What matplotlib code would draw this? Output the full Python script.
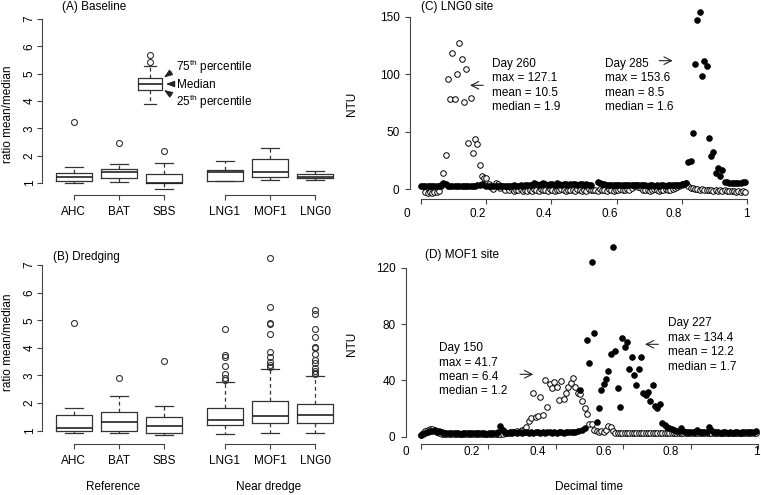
import numpy as np
import matplotlib
matplotlib.use('Agg')
import matplotlib.pyplot as plt
from matplotlib.transforms import blended_transform_factory

plt.rcParams['font.family'] = ['Liberation Sans', 'DejaVu Sans']
plt.rcParams['font.size'] = 8.5

W, H = 761, 495
LINE = '#333333'

# --- Box plot statistics: ratio mean/median per site ---
sites = ['AHC', 'BAT', 'SBS', 'LNG1', 'MOF1', 'LNG0']

base_whislo = [1.01, 1.03, 0.79, 1.07, 1.10, 1.12]
base_q1 = [1.06, 1.17, 1.00, 1.07, 1.22, 1.17]
base_med = [1.21, 1.41, 1.01, 1.39, 1.41, 1.22]
base_q3 = [1.35, 1.50, 1.32, 1.47, 1.89, 1.32]
base_whishi = [1.60, 1.71, 1.72, 1.79, 2.27, 1.43]
base_fliers = [[3.22], [2.45], [2.17], [], [], []]

dredge_whislo = [0.90, 0.90, 0.84, 0.88, 0.92, 0.93]
dredge_q1 = [0.99, 0.99, 0.92, 1.19, 1.27, 1.27]
dredge_med = [1.11, 1.33, 1.17, 1.39, 1.53, 1.56]
dredge_q3 = [1.56, 1.67, 1.51, 1.83, 2.08, 1.98]
dredge_whishi = [1.83, 2.26, 1.89, 2.77, 3.23, 2.98]
dredge_fliers = [[4.91], [2.92], [3.52],
                 [4.67, 3.74, 3.68, 3.34, 3.04, 2.90, 2.84],
                 [7.24, 5.47, 4.91, 4.86, 4.49, 3.84, 3.66, 3.50, 3.38, 3.32],
                 [5.37, 5.22, 4.68, 4.38, 4.04, 3.98, 3.78, 3.56, 3.44, 3.26,
                  3.17, 3.10, 3.05]]

# key box drawn inside panel A
key_stats = dict(whislo=3.89, q1=4.41, med=4.64, q3=4.83, whishi=5.29,
                 fliers=[5.44, 5.68])

# --- Turbidity (NTU), 10-minute readings over one day ---
N_READINGS = 144

lng0_day260 = [
    None, None, -3.0, -3.3, -2.8, -3.2, -3.0, -2.6, -1.5, 2.5, 13.6, 29.6,
    95.4, 78.1, 118.1, 78.6, 100.0, 127.1, 113.1, 75.7, 104.4, 39.7, 79.2, 31.0,
    43.2, 39.1, 20.9, 11.0, 10.0, 9.5, 4.0, 1.5, 0.0, 5.5, 4.0, 1.0,
    3.0, -0.5, 1.5, -1.0, 0.5, -1.5, -0.5, -1.2, 0.0, -1.5, -0.8, -1.8,
    -0.6, -1.4, 0.2, -1.0, -1.7, -0.4, -1.2, -0.8, -1.6, -0.2, -1.1, -1.5,
    -0.7, -1.3, 0.0, -1.0, -1.6, -0.5, -1.2, -0.9, -1.7, -0.3, -1.1, -1.4,
    -0.6, -1.5, -0.2, -1.0, -1.3, -0.7, -1.6, -0.4, -1.2, -0.8, -1.5, -0.3,
    -1.0, -1.4, -0.6, -1.1, -0.2, -1.3, -0.8, 0.3, -0.9, 1.0, 2.5, 3.5,
    2.0, 0.5, -0.8, -1.2, -0.5, -1.4, -0.9, -0.3, -1.1, -1.5, -0.6, -1.0,
    -0.4, -1.2, -0.7, 0.2, 0.8, 1.5, 2.5, 3.5, 4.5, 5.0, 2.5, 1.0,
    0.5, -0.3, 0.2, -0.6, -0.2, -1.0, -0.5, -1.3, -0.8, -1.5, -1.0, -1.7,
    -1.2, -1.6, -1.0, -1.8, -1.4, -2.0, -1.5, -2.2, -1.8, -2.4, -2.0, -2.5,
]

lng0_day285 = [
    2.4, 2.5, 2.3, 2.6, 2.5, 2.4, 2.6, 2.5, 2.7, 3.5, 5.6, 4.2,
    3.0, 2.6, 2.4, 2.5, 2.3, 2.5, 2.4, 2.6, 2.5, 2.4, 2.5, 2.6,
    2.7, 3.2, 3.6, 4.1, 3.4, 2.8, 2.5, 2.4, 2.6, 2.5, 2.7, 2.8,
    2.6, 2.9, 3.0, 2.7, 2.9, 3.1, 2.8, 3.0, 3.2, 2.9, 3.1, 3.3,
    3.4, 3.8, 5.0, 4.0, 3.7, 4.2, 5.0, 4.1, 3.8, 4.0, 4.3, 3.9,
    4.8, 4.1, 3.9, 4.2, 4.0, 3.8, 4.1, 4.4, 4.0, 3.9, 4.2, 4.0,
    3.8, 4.1, 3.9, 3.7, None, None, 6.5, 5.4, 4.6, 4.0, 3.8, 3.7,
    3.6, 3.9, 3.5, 3.7, 3.4, 3.6, 3.3, 3.5, 3.8, 3.4, 3.2, 3.5,
    3.3, 3.1, 3.4, 3.2, 3.0, 3.3, 3.1, 2.9, 3.2, 3.0, 3.1, 3.3,
    3.0, 3.2, 3.4, 3.1, 3.5, 3.3, 3.6, 4.0, 4.6, 5.5, 23.8, 24.2,
    49.0, 108.8, 147.1, 153.6, 98.6, 111.4, 107.3, 44.1, 29.0, 31.9, 14.2, 18.0,
    11.6, 16.5, 6.4, 5.8, 5.5, 5.2, 5.0, 5.2, 4.9, 5.4, 6.0, 6.1,
]

mof1_day150 = [
    1.5, 2.5, 3.8, 4.8, 5.2, 5.6, 4.2, 3.0, 2.4, 2.2, 2.0, 2.1,
    2.0, 2.2, 2.1, 2.0, 2.2, 2.1, 2.0, 2.2, 2.1, 2.0, 2.2, 2.1,
    2.0, 2.2, 2.1, 2.0, 2.2, 2.1, 2.0, 2.2, 2.1, 2.0, 2.2, 2.1,
    2.3, 2.5, 2.8, 3.2, 3.6, 4.3, 3.5, 4.7, 5.0, 6.7, 11.4, 13.5,
    31.3, 14.0, 14.7, 28.4, 15.4, 40.5, 21.3, 37.4, 34.4, 39.1, 35.5, 26.1,
    39.8, 26.6, 31.3, 35.5, 38.0, 41.7, 35.5, 30.8, 30.3, 25.0, 20.2, 15.9,
    9.0, 9.0, 5.0, 4.0, 3.5, 4.0, 3.0, 4.5, 7.8, 7.2, 4.0, 2.6,
    2.5, 2.6, 2.4, 2.5, 2.6, 2.5, 2.4, 2.6, 2.5, 2.4, 2.6, 2.5,
    2.4, 2.6, 2.5, 2.4, 2.6, 2.5, 2.4, 2.6, 2.5, 2.4, 2.6, 2.5,
    2.4, 2.6, 2.5, 2.4, 2.6, 2.5, 2.4, 2.6, 2.5, 2.4, 2.6, 2.5,
    2.4, 2.6, 2.5, 2.4, 2.6, 2.5, 2.4, 2.6, 2.5, 2.4, 2.6, 2.5,
    2.4, 2.6, 2.5, 2.4, 2.6, 2.5, 2.4, 2.6, 2.5, 2.4, 2.6, 2.5,
]

mof1_day227 = [
    1.5, 2.0, 2.6, 3.4, 4.4, 4.0, 4.6, 3.6, 4.3, 3.0, 2.6, 2.4,
    2.5, 2.3, 2.6, 2.4, 2.5, 2.2, 2.6, 2.4, 2.5, 2.3, 2.6, 2.4,
    2.5, 2.3, 2.6, 2.4, 2.2, 2.5, 2.4, 2.6, 2.3, 3.0, 7.5, 5.0,
    3.2, 2.9, 3.1, 2.8, 3.0, 2.9, 3.1, 2.8, 3.0, 3.2, 2.9, 3.1,
    2.8, 3.0, 3.3, 2.9, 3.1, 2.8, 3.0, 3.2, 2.9, 3.1, 2.8, 3.0,
    3.2, 2.9, 3.1, 3.0, 3.3, 3.4, 3.6, 4.0, 33.2, 4.5, 6.0, 68.7,
    52.1, 124.0, 73.4, 10.7, 20.6, 33.2, 37.4, 40.7, 46.9, 58.5, 134.4, 61.1,
    34.4, 21.3, 70.3, 63.5, 67.3, 47.9, 56.8, 43.8, 36.7, 47.9, 56.8, 30.8,
    29.6, 32.0, 25.1, 36.7, 22.0, 20.2, 23.2, 9.9, 8.3, 7.2, 6.3, 5.6,
    5.0, 4.4, 3.8, 6.0, 4.4, 3.6, 3.3, 3.1, 3.4, 3.2, 5.0, 3.6,
    3.2, 3.0, 3.4, 7.0, 5.0, 3.3, 3.0, 3.2, 2.9, 3.1, 3.0, 2.8,
    3.1, 2.9, 3.2, 3.0, 2.8, 3.1, 3.3, 3.0, 3.2, 3.4, 3.6, 4.0,
]

lng0_notes = {'Day 260': ['max = 127.1', 'mean = 10.5', 'median = 1.9'],
              'Day 285': ['max = 153.6', 'mean = 8.5', 'median = 1.6']}
mof1_notes = {'Day 150': ['max = 41.7', 'mean = 6.4', 'median = 1.2'],
              'Day 227': ['max = 134.4', 'mean = 12.2', 'median = 1.7']}

time_ticks = [0, 0.2, 0.4, 0.6, 0.8, 1]
time_labels = ['0', '0.2', '0.4', '0.6', '0.8', '1']

positions = [1, 2, 3, 4.35, 5.35, 6.35]

fig = plt.figure(figsize=(W / 100, H / 100), dpi=100)


def px_axes(l, t, r, b):
    return fig.add_axes([l / W, 1 - b / H, (r - l) / W, (b - t) / H])


def ftext(x, y, s, **kw):
    kw.setdefault('ha', 'left')
    kw.setdefault('va', 'center')
    return fig.text(x / W, 1 - y / H, s, **kw)


def farrow(x0, y0, x1, y1, style):
    fig.add_artist(matplotlib.patches.FancyArrowPatch(
        (x0 / W, 1 - y0 / H), (x1 / W, 1 - y1 / H), transform=fig.transFigure,
        arrowstyle=style, color='#222222', lw=0.8, shrinkA=0, shrinkB=0,
        mutation_scale=6))


def make_stats(lo, q1, med, q3, hi, fl):
    return [dict(whislo=a, q1=b, med=c, q3=d, whishi=e, fliers=f)
            for a, b, c, d, e, f in zip(lo, q1, med, q3, hi, fl)]


def draw_boxes(ax, stats, pos, width):
    ax.bxp(stats, positions=pos, widths=width, capwidths=width / 2,
           manage_ticks=False,
           boxprops=dict(color=LINE, lw=0.9),
           whiskerprops=dict(color=LINE, lw=0.9, ls=(0, (3, 2.5))),
           capprops=dict(color=LINE, lw=0.9),
           medianprops=dict(color='#222222', lw=1.2),
           flierprops=dict(marker='o', mfc='none', mec=LINE, ms=4.3, mew=0.8))


def box_panel(ax, ylo, yhi, stats):
    ax.set_xlim(0.3, 6.9)
    ax.set_ylim(ylo, yhi)
    for s in ['top', 'right', 'bottom']:
        ax.spines[s].set_visible(False)
    ax.spines['left'].set_bounds(1, 7)
    ax.spines['left'].set_color('#444444')
    ax.spines['left'].set_linewidth(0.8)
    ax.set_yticks(range(1, 8))
    ax.tick_params(axis='y', direction='out', length=3.6, width=0.8,
                   color='#444444', pad=1)
    for lab in ax.get_yticklabels():
        lab.set_rotation(90)
        lab.set_va('center')
    ax.set_xticks(positions, sites)
    ax.tick_params(axis='x', direction='out', length=3.6, width=0.8,
                   color='#444444', pad=4)
    trans = blended_transform_factory(ax.transData, ax.transAxes)
    for a, b in [(0, 2), (3, 5)]:
        ax.plot([positions[a], positions[b]], [0, 0], transform=trans,
                clip_on=False, color='#444444', lw=0.8)
    draw_boxes(ax, stats, positions, 0.8)


def ts_panel(ax, xlim, ylim, yticks, open_vals, filled_vals,
             label_px, label_y):
    times = np.arange(N_READINGS) / N_READINGS
    o = np.array(open_vals, dtype=float)
    f = np.array(filled_vals, dtype=float)
    kw = dict(ls='none', marker='o', ms=4.0, mew=0.7, clip_on=False)
    ax.plot(times, o, mfc='white', mec='black', **kw)
    ax.plot(times, f, mfc='black', mec='black', **kw)
    ax.set_xlim(*xlim)
    ax.set_ylim(*ylim)
    for s in ['top', 'right']:
        ax.spines[s].set_visible(False)
    ax.spines['left'].set_bounds(yticks[0], yticks[-1])
    ax.spines['bottom'].set_bounds(0, 1)
    for s in ['left', 'bottom']:
        ax.spines[s].set_color('#444444')
        ax.spines[s].set_linewidth(0.8)
    ax.set_yticks(yticks)
    ax.set_xticks(time_ticks, [''] * len(time_ticks))
    ax.tick_params(direction='out', length=3.6, width=0.8, color='#444444')
    ax.tick_params(axis='y', pad=4)
    for x, lab in zip(label_px, time_labels):
        ftext(x, label_y, lab, ha='center')


# --- Panel A and B: box plots ---
axA = px_axes(42, 10, 340, 195)
box_panel(axA, 0.561, 7.329,
          make_stats(base_whislo, base_q1, base_med, base_q3, base_whishi,
                     base_fliers))
draw_boxes(axA, [key_stats], [2.69], 0.53)

axB = px_axes(42, 255, 340, 444)
box_panel(axB, 0.518, 7.362,
          make_stats(dredge_whislo, dredge_q1, dredge_med, dredge_q3,
                     dredge_whishi, dredge_fliers))

ftext(62, 7, '(A) Baseline')
ftext(53, 257, '(B) Dredging')
ftext(8, 114, 'ratio mean/median', rotation=90, ha='center')
ftext(8, 342, 'ratio mean/median', rotation=90, ha='center')
ftext(113, 487, 'Reference', ha='center')
ftext(269, 487, 'Near dredge', ha='center')

ftext(176.5, 67, r'75$^{\mathregular{th}}$ percentile')
ftext(176.5, 84.5, 'Median')
ftext(176.5, 101.5, r'25$^{\mathregular{th}}$ percentile')
head = '-|>,head_length=0.85,head_width=0.32'
farrow(171.5, 72, 164, 77.5, head)
farrow(172, 84, 166, 84, head)
farrow(171.5, 95, 164, 90, head)

# --- Panel C and D: time series ---
axC = px_axes(410, 5, 755, 199)
ts_panel(axC, (-0.03275, 1.0233), (-8.70, 160.1), [0, 50, 100, 150],
         lng0_day260, lng0_day285,
         [406.7, 477.3, 543.3, 609.3, 674, 746.7], 214)
axC.set_ylabel('NTU')
axC.yaxis.set_label_coords((358 - 410) / (755 - 410), 0.49)

axD = px_axes(406, 240, 760.5, 444)
ts_panel(axD, (-0.04354, 1.00652), (-5.185, 139.7), [0, 40, 80, 120],
         mof1_day150, mof1_day227,
         [406, 471.7, 537.7, 604, 670.7, 756.7], 452)
axD.set_ylabel('NTU')
axD.yaxis.set_label_coords((358 - 406) / (760.5 - 406), 0.49)
ftext(589, 487, 'Decimal time', ha='center')

ftext(421, 7, '(C) LNG0 site')
ftext(425, 255, '(D) MOF1 site')

note_rows = [(lng0_notes, [(491.7, 64), (605, 64)]),
             (mof1_notes, [(439.3, 348.3), (668.3, 323.3)])]
for notes, spots in note_rows:
    for (day, lines), (x, y) in zip(notes.items(), spots):
        for k, s in enumerate([day] + lines):
            ftext(x, y + k * 14.4, s)

thin = '->,head_length=0.9,head_width=0.45'
farrow(483.3, 85.3, 470, 85.3, thin)
farrow(659.3, 60.7, 672.7, 60.7, thin)
farrow(520, 374.3, 533.3, 374.3, thin)
farrow(658.3, 344.3, 645, 344.3, thin)

fig.savefig('out.png', dpi=100)
